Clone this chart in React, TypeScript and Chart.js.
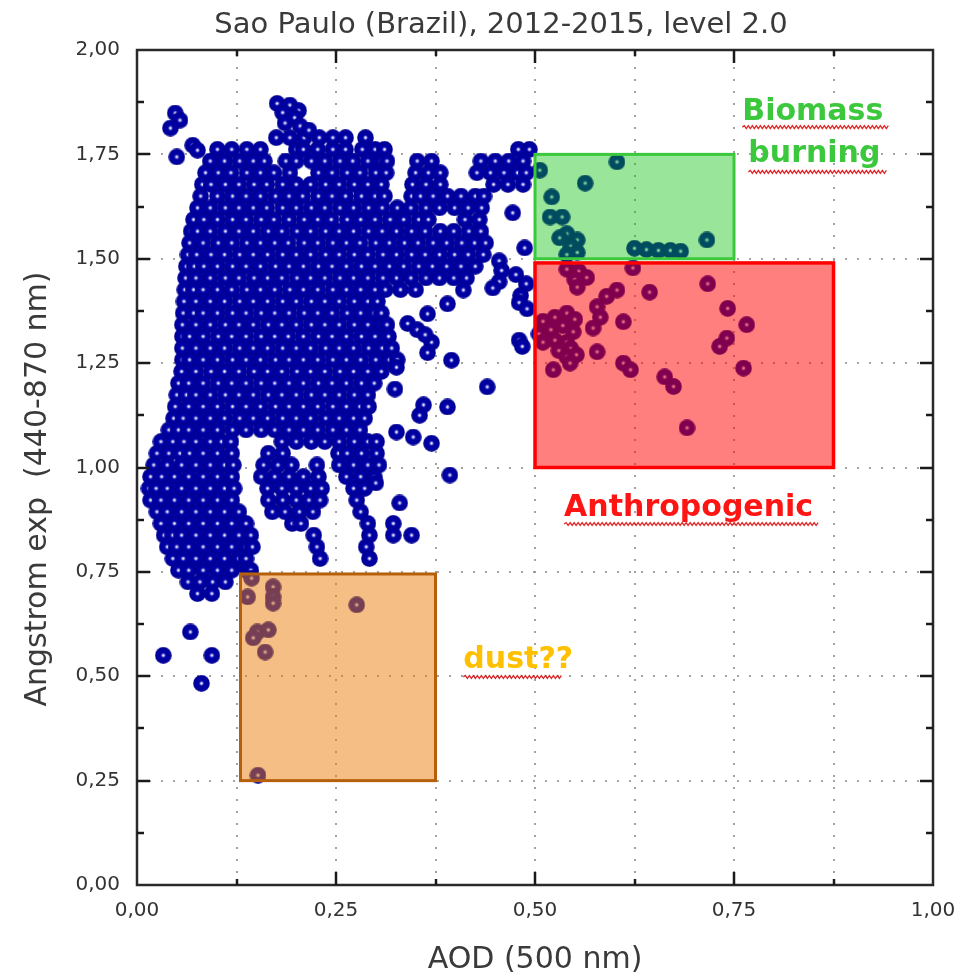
import React, { useEffect, useRef } from 'react';
import { Chart, registerables } from 'chart.js';

Chart.register(...registerables);

const TITLE = 'Sao Paulo (Brazil), 2012-2015, level 2.0';
const X_TITLE = 'AOD (500 nm)';
const Y_TITLE = 'Angstrom exp  (440-870 nm)';
const X_MIN = 0;
const X_MAX = 1;
const Y_MIN = 0;
const Y_MAX = 2;
const X_TICK_STEP = 0.125;
const Y_TICK_STEP = 0.25;

// Dense cloud read row by row: [Angstrom exp, AOD, AOD, ...]
const cloudRows: number[][] = [
  [1.790, 0.175, 0.192, 0.210, 0.229, 0.246, 0.262, 0.287],
  [1.762, 0.101, 0.119, 0.138, 0.155, 0.200, 0.209, 0.227, 0.246, 0.262, 0.283, 0.299, 0.311, 0.479, 0.493],
  [1.734, 0.092, 0.110, 0.129, 0.146, 0.160, 0.187, 0.200, 0.219, 0.236, 0.255, 0.271, 0.290, 0.306, 0.314, 0.352, 0.370, 0.432, 0.450, 0.467, 0.485],
  [1.706, 0.086, 0.102, 0.118, 0.138, 0.155, 0.172, 0.192, 0.228, 0.245, 0.264, 0.280, 0.300, 0.313, 0.350, 0.366, 0.381, 0.427, 0.444, 0.461, 0.478, 0.489],
  [1.678, 0.082, 0.093, 0.111, 0.128, 0.147, 0.163, 0.183, 0.200, 0.218, 0.237, 0.254, 0.273, 0.290, 0.307, 0.346, 0.363, 0.381, 0.448, 0.466, 0.485],
  [1.650, 0.080, 0.101, 0.120, 0.137, 0.155, 0.174, 0.191, 0.208, 0.228, 0.245, 0.262, 0.282, 0.299, 0.311, 0.345, 0.356, 0.372, 0.390, 0.407, 0.425, 0.436],
  [1.622, 0.076, 0.092, 0.111, 0.128, 0.146, 0.163, 0.183, 0.200, 0.219, 0.236, 0.255, 0.272, 0.291, 0.308, 0.327, 0.344, 0.363, 0.380, 0.399, 0.416, 0.433],
  [1.594, 0.071, 0.084, 0.101, 0.120, 0.137, 0.156, 0.172, 0.191, 0.210, 0.227, 0.244, 0.264, 0.281, 0.299, 0.318, 0.335, 0.354, 0.366, 0.412, 0.430],
  [1.566, 0.068, 0.076, 0.092, 0.111, 0.128, 0.146, 0.165, 0.182, 0.201, 0.218, 0.237, 0.254, 0.272, 0.291, 0.308, 0.326, 0.345, 0.362, 0.381, 0.398, 0.417, 0.432],
  [1.538, 0.066, 0.083, 0.102, 0.119, 0.138, 0.155, 0.173, 0.190, 0.210, 0.227, 0.246, 0.263, 0.280, 0.300, 0.317, 0.336, 0.353, 0.372, 0.389, 0.408, 0.424, 0.438],
  [1.510, 0.064, 0.075, 0.093, 0.110, 0.129, 0.146, 0.164, 0.183, 0.200, 0.218, 0.237, 0.254, 0.273, 0.290, 0.309, 0.326, 0.345, 0.362, 0.380, 0.399, 0.416, 0.435],
  [1.482, 0.062, 0.072, 0.084, 0.101, 0.120, 0.137, 0.155, 0.174, 0.191, 0.209, 0.228, 0.245, 0.263, 0.282, 0.299, 0.317, 0.335, 0.354, 0.371, 0.389, 0.407, 0.425],
  [1.454, 0.061, 0.074, 0.092, 0.111, 0.128, 0.147, 0.164, 0.182, 0.201, 0.218, 0.236, 0.255, 0.272, 0.290, 0.309, 0.326, 0.344, 0.363, 0.380, 0.398, 0.414],
  [1.426, 0.060, 0.071, 0.083, 0.101, 0.119, 0.138, 0.155, 0.173, 0.192, 0.209, 0.227, 0.246, 0.263, 0.281, 0.299, 0.312, 0.331, 0.350],
  [1.398, 0.059, 0.074, 0.092, 0.110, 0.129, 0.146, 0.164, 0.183, 0.200, 0.219, 0.236, 0.254, 0.273, 0.290, 0.302],
  [1.370, 0.058, 0.071, 0.083, 0.101, 0.120, 0.137, 0.156, 0.173, 0.191, 0.210, 0.227, 0.245, 0.264, 0.281, 0.298, 0.307],
  [1.342, 0.057, 0.074, 0.092, 0.111, 0.128, 0.146, 0.165, 0.182, 0.200, 0.219, 0.236, 0.254, 0.273, 0.290, 0.307, 0.314],
  [1.314, 0.057, 0.066, 0.083, 0.102, 0.119, 0.137, 0.156, 0.173, 0.190, 0.209, 0.228, 0.245, 0.263, 0.282, 0.299, 0.316],
  [1.286, 0.057, 0.074, 0.092, 0.110, 0.129, 0.146, 0.164, 0.183, 0.200, 0.218, 0.237, 0.254, 0.272, 0.291, 0.308, 0.320],
  [1.258, 0.057, 0.066, 0.083, 0.101, 0.120, 0.137, 0.155, 0.174, 0.191, 0.209, 0.227, 0.246, 0.263, 0.281, 0.300, 0.317, 0.327],
  [1.230, 0.056, 0.074, 0.093, 0.110, 0.128, 0.147, 0.164, 0.182, 0.201, 0.218, 0.236, 0.255, 0.272, 0.290, 0.307],
  [1.202, 0.052, 0.065, 0.083, 0.102, 0.119, 0.137, 0.156, 0.173, 0.191, 0.209, 0.228, 0.245, 0.263, 0.282, 0.298],
  [1.174, 0.050, 0.062, 0.074, 0.092, 0.111, 0.128, 0.146, 0.165, 0.182, 0.200, 0.219, 0.236, 0.254, 0.273, 0.290],
  [1.146, 0.048, 0.065, 0.083, 0.101, 0.120, 0.137, 0.155, 0.174, 0.191, 0.209, 0.227, 0.246, 0.263, 0.280, 0.291],
  [1.118, 0.046, 0.058, 0.074, 0.092, 0.110, 0.129, 0.146, 0.164, 0.183, 0.200, 0.218, 0.237, 0.254, 0.272, 0.286],
  [1.090, 0.040, 0.052, 0.065, 0.083, 0.101, 0.120, 0.137, 0.156, 0.173, 0.191, 0.209, 0.227, 0.246, 0.263, 0.280],
  [1.062, 0.030, 0.045, 0.059, 0.074, 0.092, 0.106, 0.118, 0.182, 0.200, 0.219, 0.236, 0.254, 0.273, 0.290, 0.301],
  [1.034, 0.025, 0.040, 0.054, 0.066, 0.083, 0.101, 0.119, 0.165, 0.183, 0.253, 0.264, 0.282, 0.301],
  [1.006, 0.021, 0.038, 0.056, 0.074, 0.092, 0.110, 0.121, 0.159, 0.177, 0.194, 0.226, 0.254, 0.272, 0.290, 0.304],
  [0.978, 0.017, 0.031, 0.047, 0.065, 0.083, 0.101, 0.119, 0.156, 0.173, 0.191, 0.209, 0.228, 0.263, 0.281, 0.298],
  [0.950, 0.015, 0.024, 0.038, 0.056, 0.074, 0.092, 0.110, 0.122, 0.164, 0.182, 0.200, 0.218, 0.232, 0.272, 0.286],
  [0.922, 0.017, 0.030, 0.047, 0.065, 0.083, 0.101, 0.119, 0.165, 0.183, 0.200, 0.216, 0.230, 0.276],
  [0.894, 0.025, 0.038, 0.056, 0.074, 0.092, 0.110, 0.128, 0.170, 0.186, 0.204, 0.221, 0.281],
  [0.866, 0.030, 0.047, 0.065, 0.083, 0.101, 0.119, 0.137, 0.195, 0.206, 0.290, 0.322],
  [0.838, 0.034, 0.045, 0.056, 0.074, 0.092, 0.110, 0.128, 0.143, 0.222, 0.292, 0.322, 0.345],
  [0.810, 0.038, 0.050, 0.065, 0.083, 0.101, 0.119, 0.137, 0.145, 0.226, 0.288],
  [0.782, 0.045, 0.058, 0.074, 0.092, 0.110, 0.128, 0.137, 0.230, 0.292],
  [0.754, 0.052, 0.065, 0.083, 0.101, 0.119, 0.137, 0.143],
  [0.726, 0.064, 0.079, 0.095, 0.111],
  [0.698, 0.076, 0.094],
];

// Isolated points outside the dense cloud: [AOD, Angstrom exp]
const outlierPoints: number[][] = [
  [0.048, 1.849], [0.054, 1.832], [0.042, 1.813], [0.050, 1.744], [0.070, 1.772], [0.076, 1.760],
  [0.176, 1.872], [0.192, 1.868], [0.203, 1.855], [0.183, 1.850], [0.198, 1.838], [0.186, 1.825], [0.205, 1.818], [0.216, 1.808],
  [0.472, 1.610], [0.487, 1.526], [0.455, 1.495], [0.458, 1.472], [0.476, 1.462], [0.455, 1.445], [0.489, 1.440],
  [0.410, 1.425], [0.447, 1.430], [0.482, 1.412], [0.390, 1.392], [0.480, 1.395], [0.490, 1.380], [0.365, 1.368],
  [0.340, 1.345], [0.352, 1.330], [0.370, 1.300], [0.362, 1.318], [0.480, 1.305], [0.365, 1.275], [0.484, 1.290],
  [0.395, 1.257], [0.326, 1.240], [0.324, 1.188], [0.440, 1.193], [0.360, 1.150], [0.390, 1.145], [0.355, 1.125],
  [0.326, 1.085], [0.347, 1.073], [0.370, 1.058], [0.393, 0.982], [0.300, 0.963], [0.330, 0.915],
  [0.067, 0.606], [0.033, 0.550], [0.094, 0.550], [0.081, 0.483],
];

const biomassPoints: number[][] = [
  [0.506, 1.712], [0.603, 1.732], [0.563, 1.681], [0.521, 1.648], [0.519, 1.600], [0.534, 1.600],
  [0.540, 1.560], [0.553, 1.545], [0.545, 1.530], [0.553, 1.515], [0.531, 1.550], [0.540, 1.510],
  [0.625, 1.525], [0.640, 1.522], [0.655, 1.520], [0.670, 1.520], [0.683, 1.518], [0.716, 1.545],
];

const anthropogenicPoints: number[][] = [
  [0.540, 1.475], [0.555, 1.470], [0.565, 1.455], [0.550, 1.450], [0.553, 1.432], [0.623, 1.478],
  [0.603, 1.425], [0.590, 1.410], [0.578, 1.385], [0.644, 1.420], [0.717, 1.440], [0.582, 1.360],
  [0.573, 1.334], [0.611, 1.349], [0.742, 1.381], [0.766, 1.342], [0.741, 1.310], [0.732, 1.290],
  [0.510, 1.350], [0.525, 1.360], [0.540, 1.370], [0.550, 1.355], [0.505, 1.320], [0.520, 1.330],
  [0.535, 1.340], [0.548, 1.325], [0.510, 1.300], [0.525, 1.305], [0.540, 1.300], [0.530, 1.280],
  [0.545, 1.285], [0.540, 1.265], [0.552, 1.270], [0.578, 1.277], [0.523, 1.234], [0.544, 1.250],
  [0.611, 1.250], [0.620, 1.234], [0.663, 1.217], [0.674, 1.194], [0.762, 1.238], [0.691, 1.095],
];

const dustPoints: number[][] = [
  [0.144, 0.735], [0.139, 0.690], [0.171, 0.714], [0.171, 0.690], [0.171, 0.675], [0.276, 0.671],
  [0.151, 0.606], [0.165, 0.611], [0.146, 0.592], [0.161, 0.558], [0.152, 0.263],
];

// Region boxes in data units: [AOD from, AOD to, AE from, AE to]
const biomassBox = [0.5, 0.75, 1.5, 1.75];
const anthropogenicBox = [0.5, 0.875, 1.0, 1.49];
const dustBox = [0.13, 0.375, 0.25, 0.745];

const fmt = (v: number) => v.toFixed(2).replace('.', ',');

function makeSphere(): HTMLCanvasElement {
  const c = document.createElement('canvas');
  c.width = 17;
  c.height = 17;
  const g = c.getContext('2d')!;
  const grad = g.createRadialGradient(8.5, 8.5, 0, 8.5, 8.5, 8.4);
  grad.addColorStop(0, '#ffffff');
  grad.addColorStop(0.08, '#e8e8fa');
  grad.addColorStop(0.2, '#5050c8');
  grad.addColorStop(0.32, '#0000a8');
  grad.addColorStop(0.9, '#000098');
  grad.addColorStop(1, 'rgba(0,0,150,0.75)');
  g.fillStyle = grad;
  g.beginPath();
  g.arc(8.5, 8.5, 8.4, 0, Math.PI * 2);
  g.fill();
  return c;
}

function wavy(ctx: CanvasRenderingContext2D, x0: number, x1: number, y: number) {
  ctx.beginPath();
  ctx.moveTo(x0, y);
  let up = true;
  for (let x = x0 + 2; x <= x1; x += 2) {
    ctx.lineTo(x, y + (up ? -1.4 : 1.4));
    up = !up;
  }
  ctx.stroke();
}

const annotations = [
  { text: 'Biomass', x: 0.849, y: 1.832, color: '#3cc83c', align: 'center', ul: 7, ulText: 'Biomass' },
  { text: 'burning', x: 0.851, y: 1.732, color: '#3cc83c', align: 'center', ul: 10, ulText: 'burning' },
  { text: 'Anthropogenic', x: 0.693, y: 0.884, color: '#ff1414', align: 'center', ul: 8, ulText: 'Anthropogenic' },
  { text: 'dust??', x: 0.41, y: 0.52, color: '#ffc000', align: 'left', ul: 9, ulText: 'dust?' },
];

const decorPlugin = {
  id: 'decor',
  beforeDatasetsDraw(chart: any) {
    const { ctx, chartArea: a, scales } = chart;
    const xs = scales.x;
    const ys = scales.y;
    ctx.save();
    ctx.strokeStyle = 'rgba(140,140,140,0.8)';
    ctx.lineWidth = 2;
    ctx.setLineDash([2, 10]);
    xs.ticks.forEach((t: any) => {
      if (t.value <= X_MIN || t.value >= X_MAX) return;
      const px = Math.round(xs.getPixelForValue(t.value));
      ctx.beginPath();
      ctx.moveTo(px, a.bottom);
      ctx.lineTo(px, a.top);
      ctx.stroke();
    });
    ys.ticks.forEach((t: any) => {
      if (t.value <= Y_MIN || t.value >= Y_MAX) return;
      const py = Math.round(ys.getPixelForValue(t.value));
      ctx.beginPath();
      ctx.moveTo(a.left, py);
      ctx.lineTo(a.right, py);
      ctx.stroke();
    });
    ctx.restore();
  },
  afterDatasetsDraw(chart: any) {
    const { ctx, scales } = chart;
    const xs = scales.x;
    const ys = scales.y;
    const boxes = [
      { b: dustBox, fill: 'rgba(235,125,10,0.5)', stroke: '#b4600c', w: 3 },
      { b: anthropogenicBox, fill: 'rgba(255,0,0,0.5)', stroke: '#ff0000', w: 3.5 },
      { b: biomassBox, fill: 'rgba(0,190,0,0.4)', stroke: '#3cc83c', w: 3 },
    ];
    ctx.save();
    boxes.forEach(({ b, fill, stroke, w }) => {
      const x0 = xs.getPixelForValue(b[0]);
      const x1 = xs.getPixelForValue(b[1]);
      const y0 = ys.getPixelForValue(b[3]);
      const y1 = ys.getPixelForValue(b[2]);
      ctx.fillStyle = fill;
      ctx.fillRect(x0, y0, x1 - x0, y1 - y0);
      ctx.strokeStyle = stroke;
      ctx.lineWidth = w;
      ctx.strokeRect(x0, y0, x1 - x0, y1 - y0);
    });
    ctx.restore();
  },
  afterDraw(chart: any) {
    const { ctx, chartArea: a, scales } = chart;
    const xs = scales.x;
    const ys = scales.y;
    ctx.save();
    ctx.strokeStyle = '#2a2a2a';
    ctx.lineWidth = 2.5;
    ctx.strokeRect(a.left, a.top, a.right - a.left, a.bottom - a.top);
    ctx.strokeStyle = '#1a1a1a';
    xs.ticks.forEach((t: any) => {
      if (t.value <= X_MIN || t.value >= X_MAX) return;
      const major = Math.abs(t.value / 0.25 - Math.round(t.value / 0.25)) < 1e-6;
      const len = major ? 13 : 6;
      const px = Math.round(xs.getPixelForValue(t.value));
      ctx.beginPath();
      ctx.moveTo(px, a.bottom);
      ctx.lineTo(px, a.bottom - len);
      ctx.moveTo(px, a.top);
      ctx.lineTo(px, a.top + len);
      ctx.stroke();
    });
    ys.ticks.forEach((t: any) => {
      const vals = [t.value, t.value + Y_TICK_STEP / 2];
      vals.forEach((v, i) => {
        if (v <= Y_MIN || v >= Y_MAX) return;
        const len = i === 0 ? 13 : 7;
        const py = Math.round(ys.getPixelForValue(v));
        ctx.beginPath();
        ctx.moveTo(a.left, py);
        ctx.lineTo(a.left + len, py);
        ctx.moveTo(a.right, py);
        ctx.lineTo(a.right - len, py);
        ctx.stroke();
      });
    });
    ctx.fillStyle = '#3a3a3a';
    ctx.textBaseline = 'alphabetic';
    ctx.textAlign = 'center';
    ctx.font = '29px "DejaVu Sans"';
    ctx.fillText(TITLE, 501, 33);
    ctx.font = '30px "DejaVu Sans"';
    ctx.fillText(X_TITLE, (a.left + a.right) / 2, 968);
    ctx.save();
    ctx.translate(46, 489);
    ctx.rotate(-Math.PI / 2);
    ctx.fillText(Y_TITLE, 0, 0);
    ctx.restore();
    ctx.font = 'bold 30px "DejaVu Sans"';
    annotations.forEach((an) => {
      const px = xs.getPixelForValue(an.x);
      const py = ys.getPixelForValue(an.y);
      const w = ctx.measureText(an.text).width;
      const left = an.align === 'center' ? px - w / 2 : px;
      ctx.textAlign = 'left';
      ctx.fillStyle = an.color;
      ctx.fillText(an.text, left, py);
      const uw = ctx.measureText(an.ulText).width;
      ctx.strokeStyle = '#e02828';
      ctx.lineWidth = 1.3;
      wavy(ctx, left, left + uw + 6, py + an.ul);
    });
    ctx.restore();
  },
};

export default function App() {
  const ref = useRef<HTMLCanvasElement | null>(null);
  useEffect(() => {
    if (!ref.current) return;
    const sphere = makeSphere();
    const pts: { x: number; y: number }[] = [];
    cloudRows.forEach((row) => {
      for (let i = 1; i < row.length; i++) pts.push({ x: row[i], y: row[0] });
    });
    [outlierPoints, biomassPoints, anthropogenicPoints, dustPoints].forEach((arr) =>
      arr.forEach(([x, y]) => pts.push({ x, y }))
    );
    const tickFont = { family: '"DejaVu Sans"', size: 20 };
    const chart = new Chart(ref.current, {
      type: 'scatter',
      data: {
        datasets: [
          {
            label: 'AERONET',
            data: pts,
            pointStyle: sphere as any,
            pointRadius: 8,
            pointHoverRadius: 8,
            backgroundColor: '#00009a',
            borderWidth: 0,
          },
        ],
      },
      options: {
        animation: false,
        responsive: false,
        maintainAspectRatio: false,
        events: [],
        layout: { padding: { top: 50, right: 28, left: 0, bottom: 0 } },
        plugins: {
          legend: { display: false },
          title: { display: false },
          tooltip: { enabled: false },
        },
        scales: {
          x: {
            type: 'linear',
            min: X_MIN,
            max: X_MAX,
            grid: { display: false, drawTicks: false },
            border: { display: false },
            ticks: {
              stepSize: X_TICK_STEP,
              autoSkip: false,
              maxRotation: 0,
              padding: 14,
              color: '#333333',
              font: tickFont,
              callback: (v: any) => {
                const n = Number(v);
                return Math.abs(n / 0.25 - Math.round(n / 0.25)) < 1e-6 ? fmt(n) : '';
              },
            },
            afterFit: (s: any) => {
              s.height = 91;
              s.paddingLeft = 0;
              s.paddingRight = 0;
            },
          },
          y: {
            type: 'linear',
            min: Y_MIN,
            max: Y_MAX,
            grid: { display: false, drawTicks: false },
            border: { display: false },
            ticks: {
              stepSize: Y_TICK_STEP,
              autoSkip: false,
              padding: 17,
              color: '#333333',
              font: tickFont,
              callback: (v: any) => fmt(Number(v)),
            },
            afterFit: (s: any) => {
              s.width = 137;
              s.paddingTop = 0;
              s.paddingBottom = 0;
            },
          },
        },
      },
      plugins: [decorPlugin],
    });
    return () => chart.destroy();
  }, []);
  return (
    <div style={{ position: 'fixed', left: 0, top: 0, width: 961, height: 976, background: '#ffffff' }}>
      <canvas ref={ref} width={961} height={976} style={{ display: 'block' }} />
    </div>
  );
}
